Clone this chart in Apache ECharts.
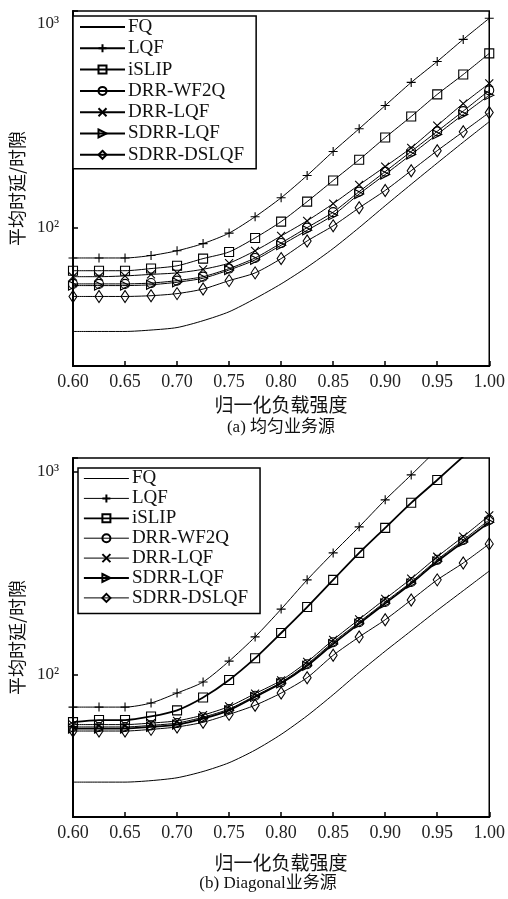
<!DOCTYPE html>
<html>
<head>
<meta charset="utf-8">
<script src="https://cdn.jsdelivr.net/npm/echarts@6/dist/echarts.min.js"></script>
<style>
html,body{margin:0;padding:0;background:#fff;}
#c{width:508px;height:899px;}
</style>
</head>
<body>
<div id="c"></div>
<script>
// ---- data ----
const loads = [0.600, 0.625, 0.650, 0.675, 0.700, 0.725, 0.750, 0.775, 0.800, 0.825, 0.850, 0.875, 0.900, 0.925, 0.950, 0.975, 1.000];
const seriesNames = ['FQ', 'LQF', 'iSLIP', 'DRR-WF2Q', 'DRR-LQF', 'SDRR-LQF', 'SDRR-DSLQF'];

// (a) uniform traffic
const aFQ        = [31, 31, 31, 31.5, 32.4, 35, 38.7, 44.9, 53, 64, 79, 100, 128, 163, 207, 262, 330];
const aLQF       = [71, 71, 71, 73, 77, 83.5, 94, 113, 140, 180, 236, 305, 396, 514, 651, 835, 1059];
const aISLIP     = [61.5, 61.5, 61.5, 63, 65, 70.5, 76, 89, 107, 134, 170, 215, 276, 350, 449, 562, 713];
const aDRRWF2Q   = [53, 53, 53, 53.5, 55, 57.5, 63, 71, 84, 100, 119, 150, 188, 236, 296, 372, 470];
const aDRRLQF    = [57.5, 57.5, 58, 59, 60, 62.5, 67, 77, 91, 108, 131, 162, 199, 246, 316, 405, 508];
const aSDRRLQF   = [52, 52, 52, 52.5, 54, 56.5, 62, 69.5, 82, 97, 115, 146, 182, 228, 286, 358, 445];
const aSDRRDSLQF = [46, 46, 46, 46.4, 47.5, 50, 55, 60, 70.5, 86, 102, 125, 152, 190, 238, 295, 366];

// (b) diagonal traffic
const bFQ        = [29.7, 29.7, 29.7, 30.2, 31.2, 33.5, 37, 42.7, 51, 63, 80, 103, 131, 165, 208, 260, 325];
const bLQF       = [69.5, 69.5, 69.5, 72.8, 81.5, 92.4, 117, 154, 211, 294, 399, 536, 728, 966, 1290, null, null];
const bISLIP     = [58.6, 60, 60, 62.5, 67, 77.5, 94.5, 121, 161, 216, 294, 399, 530, 704, 912, 1190, null];
const bDRRWF2Q   = [55.5, 55.5, 55.5, 56.5, 58, 62, 68, 79, 92, 113, 145, 182, 229, 287, 369, 462, 580];
const bDRRLQF    = [57, 57, 57, 58, 59.5, 63.5, 70, 81, 94, 116, 149, 188, 237, 298, 382, 480, 610];
const bSDRRLQF   = [54.5, 54.5, 54.5, 55.5, 57, 61, 67, 78, 91, 111, 142, 179, 225, 282, 362, 452, 565];
const bSDRRDSLQF = [53, 53, 53, 54, 55.5, 58.5, 64, 71, 81.5, 97, 125, 154, 187, 234, 294, 356, 442];

const xTickLabels = ['0.60', '0.65', '0.70', '0.75', '0.80', '0.85', '0.90', '0.95', '1.00'];
const yTickLabels = {100: '10²', 1000: '10³'};
const yTitle = '平均时延/时隙';
const xTitle = '归一化负载强度';
const captionA = '(a) 均匀业务源';
const captionB = '(b) Diagonal业务源';

// ---- styling ----
const SERIF = '"Liberation Serif", "Times New Roman", serif';
const CJK = '"Noto Sans CJK SC", sans-serif';
const MIX = '"Liberation Serif", "Noto Sans CJK SC", serif';

const symbols = {
  'FQ': {symbol: 'none', size: 0},
  'LQF': {symbol: 'path://M5,0L5,10M0,5L10,5', size: 9},
  'iSLIP': {symbol: 'rect', size: 9},
  'DRR-WF2Q': {symbol: 'circle', size: 9},
  'DRR-LQF': {symbol: 'path://M0,0L10,10M10,0L0,10', size: 8},
  'SDRR-LQF': {symbol: 'path://M0,0L10,5L0,10Z', size: 9},
  'SDRR-DSLQF': {symbol: 'diamond', size: [8, 12]}
};

function pairs(vals) { return loads.map((x, i) => [x, vals[i]]); }

function mkSeries(name, vals, idx, width) {
  const s = symbols[name];
  return {
    type: 'line', name: name, xAxisIndex: idx, yAxisIndex: idx,
    data: pairs(vals),
    symbol: s.symbol, symbolSize: s.size, showSymbol: s.symbol !== 'none',
    smooth: 0.25, clip: true, connectNulls: false,
    lineStyle: {color: '#000', width: width},
    itemStyle: {color: 'rgba(255,255,255,0)', borderColor: '#000', borderWidth: 1.1},
    emphasis: {disabled: true}, silent: true, z: 3
  };
}

const aVals = [aFQ, aLQF, aISLIP, aDRRWF2Q, aDRRLQF, aSDRRLQF, aSDRRDSLQF];
const bVals = [bFQ, bLQF, bISLIP, bDRRWF2Q, bDRRLQF, bSDRRLQF, bSDRRDSLQF];
const bWidths = [1, 1, 1.8, 1, 1, 1.8, 1];

const series = [];
seriesNames.forEach((n, i) => series.push(mkSeries(n, aVals[i], 0, 1)));
seriesNames.forEach((n, i) => series.push(mkSeries(n, bVals[i], 1, bWidths[i])));

function xAxis(idx) {
  return {
    type: 'value', gridIndex: idx, min: 0.6, max: 1.0, interval: 0.05,
    axisLine: {show: true, onZero: false, lineStyle: {color: '#000', width: 2}},
    axisTick: {show: true, inside: true, length: 5, lineStyle: {color: '#000', width: 1.5}},
    axisLabel: {
      formatter: v => { const k = Math.round((v - 0.6) / 0.05); return xTickLabels[k] || ''; },
      fontFamily: SERIF, fontSize: 18, color: '#222', margin: 7
    },
    splitLine: {show: false},
    name: xTitle, nameLocation: 'middle', nameGap: idx === 0 ? 29 : 36,
    nameTextStyle: {fontFamily: CJK, fontSize: 19, color: '#111'}
  };
}
function yAxis(idx, min, max) {
  return {
    type: 'log', logBase: 10, gridIndex: idx, min: min, max: max,
    axisLine: {show: true, lineStyle: {color: '#000', width: 2}},
    axisTick: {show: true, inside: true, length: 5, lineStyle: {color: '#000', width: 1.5}},
    minorTick: {show: false},
    axisLabel: {
      formatter: v => {
        const e = Math.log10(v);
        if (Math.abs(e - Math.round(e)) > 1e-6) return '';
        return yTickLabels[Math.round(Math.pow(10, Math.round(e)))] || '';
      },
      fontFamily: SERIF, fontSize: 17, color: '#222', margin: 14
    },
    splitLine: {show: false},
    name: yTitle, nameLocation: 'middle', nameGap: 46,
    nameTextStyle: {fontFamily: CJK, fontSize: 18, color: '#111'}
  };
}

function legend(top, left, lh, gap, thick, pad) {
  return {
    orient: 'vertical', left: left, top: top, selectedMode: false,
    data: seriesNames.map((n, i) => {
      const d = {name: n};
      if (thick) d.lineStyle = {width: bWidths[i], color: '#000'};
      if (n === 'FQ') d.itemStyle = {color: 'rgba(0,0,0,0)', borderColor: 'rgba(0,0,0,0)', borderWidth: 0};
      return d;
    }),
    itemWidth: 45, itemHeight: 10, itemGap: gap,
    backgroundColor: '#fff', borderColor: '#000', borderWidth: 1.5,
    padding: pad,
    textStyle: {fontFamily: SERIF, fontSize: 19, color: '#111', lineHeight: lh, padding: [0, 0, 0, -2]},
    z: 10
  };
}

const option = {
  animation: false,
  backgroundColor: '#fff',
  grid: [
    {left: 68, right: 17, top: 11, bottom: 533, show: true, borderColor: '#000', borderWidth: 1.5},
    {left: 68, right: 12, top: 458, bottom: 82, show: true, borderColor: '#000', borderWidth: 1.5}
  ],
  xAxis: [xAxis(0), xAxis(1)],
  yAxis: [yAxis(0, 21, 1150), yAxis(1, 20, 1170)],
  legend: [legend(16, 73, 20, 1.3, false, [1, 12, 4, 6]), legend(468, 78, 18, 0.9, true, [1, 12, 6, 5])],
  series: series,
  graphic: [
    {type: 'text', style: {text: captionA, x: 281, y: 428, textAlign: 'center', textVerticalAlign: 'middle', font: '17px ' + MIX, fill: '#111'}},
    {type: 'text', style: {text: captionB, x: 268, y: 884, textAlign: 'center', textVerticalAlign: 'middle', font: '17px ' + MIX, fill: '#111'}}
  ]
};

const chart = echarts.init(document.getElementById('c'), null, {renderer: 'canvas'});
chart.setOption(option);
</script>
</body>
</html>
